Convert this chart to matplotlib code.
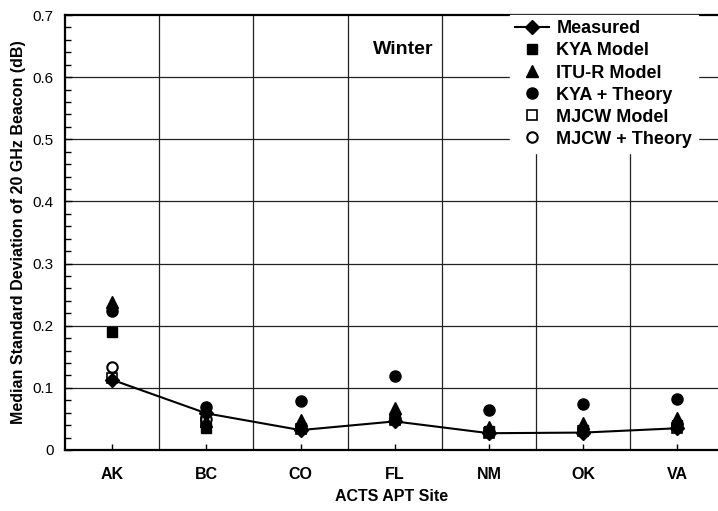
import matplotlib.pyplot as plt
from matplotlib.ticker import MultipleLocator

plt.rcParams['font.family'] = ['Liberation Sans', 'DejaVu Sans']

# sites and values (dB)
sites = ["AK", "BC", "CO", "FL", "NM", "OK", "VA"]
measured = [0.113, 0.059, 0.032, 0.046, 0.027, 0.028, 0.035]
kya_model = [0.190, 0.036, 0.036, 0.050, 0.030, 0.032, 0.040]
itur_model = [0.238, 0.046, 0.048, 0.067, 0.037, 0.043, 0.051]
kya_theory = [0.223, 0.069, 0.079, 0.119, 0.064, 0.074, 0.082]
mjcw_model = [0.116, 0.045, 0.033, 0.048, 0.028, 0.030, 0.036]
mjcw_theory = [0.134, 0.050, 0.035, 0.050, 0.029, 0.031, 0.038]

x = list(range(len(sites)))

fig = plt.figure(figsize=(7.18, 5.11), dpi=100)
ax = fig.add_axes([0.0905, 0.1194, 0.9095, 0.8512])

# grid: horizontal every 0.1, vertical between sites
for yv in [0.1, 0.2, 0.3, 0.4, 0.5, 0.6]:
    ax.axhline(yv, color="#222222", lw=0.9, zorder=1)
for xv in range(len(sites) - 1):
    ax.axvline(xv + 0.5, color="#222222", lw=0.9, zorder=1)

ax.plot(x, mjcw_model, ls="none", marker="s", ms=7, mfc="white", mec="black", mew=1.2, label="MJCW Model", zorder=3)
ax.plot(x, mjcw_theory, ls="none", marker="o", ms=7.5, mfc="white", mec="black", mew=1.5, label="MJCW + Theory", zorder=3)
ax.plot(x, kya_model, ls="none", marker="s", ms=7.5, color="black", label="KYA Model", zorder=4)
ax.plot(x, itur_model, ls="none", marker="^", ms=9, color="black", label="ITU-R Model", zorder=4)
ax.plot(x, kya_theory, ls="none", marker="o", ms=8, color="black", label="KYA + Theory", zorder=4)
ax.plot(x, measured, color="black", lw=1.5, marker="D", ms=7.5, label="Measured", zorder=5)

ax.set_xlim(-0.5, 6.43)
ax.set_ylim(0, 0.7)
ax.set_xticks(x)
ax.set_xticklabels(sites, fontweight="bold", fontsize=11.5)
ax.set_yticks([0, 0.1, 0.2, 0.3, 0.4, 0.5, 0.6, 0.7])
ax.set_yticklabels(["0", "0.1", "0.2", "0.3", "0.4", "0.5", "0.6", "0.7"], fontsize=11)
ax.yaxis.set_minor_locator(MultipleLocator(0.02))
ax.tick_params(axis="both", which="both", direction="in")
ax.tick_params(axis="y", which="major", length=5, width=1, pad=8)
ax.tick_params(axis="y", which="minor", length=4, width=1)
ax.tick_params(axis="x", length=4, width=1, pad=12)
ax.spines["right"].set_visible(False)
for s in ["left", "bottom", "top"]:
    ax.spines[s].set_linewidth(1.6)

ax.set_xlabel("ACTS APT Site", fontweight="bold", fontsize=11.5, labelpad=5)
ax.set_ylabel("Median Standard Deviation of 20 GHz Beacon (dB)", fontweight="bold", fontsize=11.5, labelpad=5)

fig.text(373 / 718, 1 - 50 / 511, "Winter", fontweight="bold", fontsize=14, va="center", ha="left")

handles, labels = ax.get_legend_handles_labels()
order = ["Measured", "KYA Model", "ITU-R Model", "KYA + Theory", "MJCW Model", "MJCW + Theory"]
hmap = dict(zip(labels, handles))
leg = ax.legend([hmap[k] for k in order], order, loc="upper right", bbox_to_anchor=(0.969, 1.0),
                frameon=True, fancybox=False, edgecolor="white", framealpha=1,
                prop={"weight": "bold", "size": 13}, handlelength=1.9,
                labelspacing=0.28, borderaxespad=0.0, borderpad=0.3, handletextpad=0.4)
leg.set_zorder(10)

fig.savefig("out.png", dpi=100)
